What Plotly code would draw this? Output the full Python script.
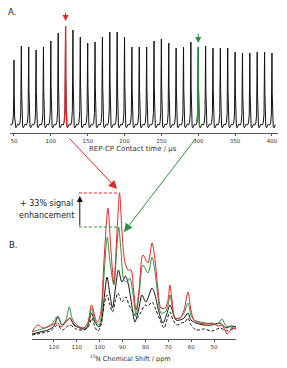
import plotly.graph_objects as go

W, H = 287, 368

# ---------------- Panel A data (REP-CP contact-time array) ----------------
contact_times = [50, 60, 70, 80, 90, 100, 110, 120, 130, 140, 150, 160,
                 170, 180, 190, 200, 210, 220, 230, 240, 250, 260, 270, 280,
                 290, 300, 310, 320, 330, 340, 350, 360, 370, 380, 390, 400]
peak_heights = [65, 79, 78, 75, 78, 84, 92, 99, 95, 88, 82, 83,
                88, 93, 93, 88, 78, 78, 78, 84, 86, 82, 77, 78,
                83, 78, 79, 77, 77, 77, 73, 72, 72, 73, 73, 72]
red_time = 120
green_time = 300
a_ticks = [50, 100, 150, 200, 250, 300, 350, 400]

# ---------------- Panel B data (15N spectra) ----------------
red_ppm = [129.6, 127.0, 124.8, 122.6, 120.9, 118.3, 116.9, 114.8, 113.0, 111.3,
           109.5, 106.9, 105.1, 103.6, 101.6, 100.8, 99.4, 98.1, 96.4, 95.1,
           93.8, 92.4, 91.3, 90.3, 89.0, 87.6, 86.3, 85.2, 84.1, 82.8,
           81.1, 78.9, 77.1, 75.8, 74.5, 73.2, 71.4, 70.1, 69.3, 68.4,
           67.1, 64.9, 63.1, 61.4, 60.1, 58.8, 56.1, 53.5, 50.9, 48.3,
           46.5, 44.3, 42.6, 40.4]
red_int = [7, 14, 11, 12, 14, 16, 12, 17, 21, 15,
           12, 11, 17, 34, 19, 17, 29, 79, 131, 89,
           56, 109, 146, 109, 77, 69, 69, 49, 29, 49,
           84, 76, 96, 79, 49, 31, 31, 39, 54, 39,
           21, 21, 29, 47, 29, 19, 16, 15, 16, 13,
           14, 5, 9, 11]

green_ppm = [129.6, 127.0, 123.9, 120.9, 118.3, 116.5, 114.8, 113.3, 112.1, 110.8,
             108.6, 106.0, 104.7, 103.6, 102.1, 100.3, 99.4, 98.1, 96.7, 95.5,
             93.8, 92.7, 91.7, 90.7, 89.4, 88.1, 86.8, 85.4, 84.1, 82.8,
             81.1, 78.9, 77.1, 75.8, 74.5, 73.2, 71.4, 70.1, 69.3, 68.4,
             67.1, 64.9, 63.1, 61.4, 60.1, 58.8, 56.1, 53.5, 50.9, 48.3,
             46.5, 44.8, 42.6, 40.4]
green_int = [7, 9, 11, 15, 23, 14, 19, 32, 21, 16,
             12, 11, 19, 31, 19, 14, 21, 64, 102, 77,
             54, 84, 112, 89, 59, 57, 61, 44, 24, 44,
             74, 66, 82, 67, 42, 26, 27, 34, 44, 34,
             21, 21, 26, 36, 24, 19, 17, 16, 15, 15,
             20, 13, 12, 10]

black_ppm = [129.6, 126.1, 122.6, 120.0, 118.3, 116.5, 114.8, 113.0, 111.3, 108.6,
             106.0, 104.7, 103.6, 102.1, 100.3, 99.0, 97.9, 96.8, 95.5, 94.4,
             93.1, 91.8, 90.3, 88.7, 87.6, 86.3, 84.6, 83.0, 81.5, 79.8,
             77.1, 75.8, 74.1, 72.3, 70.8, 69.3, 67.9, 66.6, 64.9, 63.1,
             61.4, 60.1, 57.9, 54.4, 50.9, 47.4, 44.8, 42.6, 40.4]
black_int = [5, 7, 9, 13, 22, 14, 17, 21, 14, 11,
             10, 17, 26, 17, 12, 21, 44, 62, 44, 31,
             51, 69, 57, 63, 56, 39, 17, 29, 44, 37,
             51, 44, 27, 16, 24, 34, 26, 19, 19, 21,
             26, 19, 16, 14, 14, 16, 11, 13, 12]

dash_ppm = [129.6, 125.2, 121.7, 118.3, 116.5, 113.0, 110.4, 106.9, 104.7, 103.4,
            102.1, 100.8, 99.4, 98.1, 96.8, 95.5, 94.4, 93.1, 92.0, 90.3,
            88.5, 87.2, 85.9, 83.7, 82.4, 80.2, 78.9, 77.1, 75.4, 73.6,
            71.9, 70.6, 69.3, 67.9, 66.2, 64.4, 62.7, 61.4, 60.1, 57.9,
            54.4, 50.9, 47.4, 44.8, 42.6, 40.4]
dash_int = [4, 6, 8, 14, 9, 14, 10, 9, 13, 21,
            12, 8, 14, 34, 44, 34, 27, 39, 46, 37,
            42, 34, 29, 21, 25, 34, 33, 37, 29, 19,
            11, 19, 27, 19, 14, 16, 17, 21, 14, 9,
            10, 8, 11, 8, 10, 11]

b_ticks = [120, 110, 100, 90, 80, 70, 60, 50]
enh_lines = ["+ 33% signal", "enhancement"]

# ---------------- styling ----------------
RED = "#e3262b"
GREEN = "#2f8f3e"
BLACK = "#111111"
AXC = "#555555"
FONT = "DejaVu Sans"

# spike drawing profile for panel A: (offset in us, fraction of height, baseline offset)
PROFILE = [(-5.0, 0.0, 0.8), (-3.2, 0.0, 0.0), (-1.8, 0.03, 0.0), (-0.8, 0.15, 0.0),
           (-0.3, 0.5, 0.0), (0.0, 1.0, 0.0), (0.35, 0.45, 0.0), (0.9, 0.12, 0.0),
           (1.7, 0.0, -1.5), (2.6, 0.0, -2.8), (3.6, 0.0, -1.5), (4.6, 0.0, 0.3)]


def spike(t, h, lo=-9.0, hi=9.0):
    xs, ys = [], []
    for dx, f, off in PROFILE:
        if lo <= dx <= hi:
            xs.append(t + dx)
            ys.append(h * f + off)
    return xs, ys


ax_all, ay_all = [], []
for t, h in zip(contact_times, peak_heights):
    xs, ys = spike(t, h)
    ax_all += xs
    ay_all += ys

fig = go.Figure()
fig.add_trace(go.Scatter(x=ax_all, y=ay_all, mode="lines", xaxis="x", yaxis="y",
                         line=dict(color=BLACK, width=1), hoverinfo="skip"))
for t_sel, col in [(red_time, RED), (green_time, GREEN)]:
    h = peak_heights[contact_times.index(t_sel)]
    xs, ys = spike(t_sel, h, lo=-1.8, hi=1.7)
    fig.add_trace(go.Scatter(x=xs, y=ys, mode="lines", xaxis="x", yaxis="y",
                             line=dict(color=col, width=1.3), hoverinfo="skip"))

# panel B spectra
fig.add_trace(go.Scatter(x=dash_ppm, y=dash_int, mode="lines", xaxis="x2", yaxis="y2",
                         line=dict(color=BLACK, width=1, dash="3px,2px", shape="spline", smoothing=0.8)))
fig.add_trace(go.Scatter(x=black_ppm, y=black_int, mode="lines", xaxis="x2", yaxis="y2",
                         line=dict(color=BLACK, width=1, shape="spline", smoothing=0.8)))
fig.add_trace(go.Scatter(x=green_ppm, y=green_int, mode="lines", xaxis="x2", yaxis="y2",
                         line=dict(color=GREEN, width=1, shape="spline", smoothing=0.8)))
fig.add_trace(go.Scatter(x=red_ppm, y=red_int, mode="lines", xaxis="x2", yaxis="y2",
                         line=dict(color=RED, width=1, shape="spline", smoothing=0.8)))

# geometry (pixels)
A_XPX = (10, 278)
A_XR = [44.6, 408.2]
A_YPX = (133, 10)
A_YR = [-8, 115]
B_XPX = (32, 236)
B_XR = [129.6, 40.4]
B_YPX = (339, 180)
B_YR = [0, 159]


def px(v):
    return v / W


def py(v):
    return 1 - v / H


axis_common = dict(showline=True, linecolor=AXC, linewidth=1.3, ticks="outside",
                   ticklen=2, tickwidth=1, tickcolor=AXC, showgrid=False, zeroline=False,
                   tickfont=dict(family=FONT, size=5.5, color="#333"))

fig.update_layout(
    width=W, height=H, margin=dict(l=0, r=0, t=0, b=0),
    paper_bgcolor="white", plot_bgcolor="white", showlegend=False,
    xaxis=dict(domain=[px(A_XPX[0]), px(A_XPX[1])], range=A_XR, anchor="y",
               tickvals=a_ticks, **axis_common),
    yaxis=dict(domain=[py(A_YPX[0]), py(A_YPX[1])], range=A_YR, visible=False, anchor="x"),
    xaxis2=dict(domain=[px(B_XPX[0]), px(B_XPX[1])], range=B_XR, anchor="y2",
                tickvals=b_ticks, **axis_common),
    yaxis2=dict(domain=[py(B_YPX[0]), py(B_YPX[1])], range=B_YR, visible=False, anchor="x2"),
)

red_max = max(red_int)
red_peak_ppm = red_ppm[red_int.index(red_max)]
green_max = max(green_int)
green_peak_ppm = green_ppm[green_int.index(green_max)]
left_ppm = 108.7

anns = [
    dict(text="A.", x=px(6), y=py(12), xref="paper", yref="paper", xanchor="left",
         yanchor="middle", showarrow=False, font=dict(family=FONT, size=8.5, color="#222")),
    dict(text="B.", x=px(7), y=py(245), xref="paper", yref="paper", xanchor="left",
         yanchor="middle", showarrow=False, font=dict(family=FONT, size=8.5, color="#222")),
    dict(text="REP-CP Contact time / μs", x=px(133), y=py(149), xref="paper", yref="paper",
         xanchor="center", yanchor="middle", showarrow=False,
         font=dict(family=FONT, size=7, color="#333")),
    dict(text="<sup>15</sup>N Chemical Shift / ppm", x=px(130), y=py(358), xref="paper",
         yref="paper", xanchor="center", yanchor="middle", showarrow=False,
         font=dict(family=FONT, size=6.5, color="#333")),
    dict(text=enh_lines[0], x=px(47), y=py(203.5), xref="paper", yref="paper",
         xanchor="center", yanchor="middle", showarrow=False,
         font=dict(family=FONT, size=8, color="#222")),
    dict(text=enh_lines[1], x=px(47), y=py(215), xref="paper", yref="paper",
         xanchor="center", yanchor="middle", showarrow=False,
         font=dict(family=FONT, size=8, color="#222")),
    # small arrows in panel A
    dict(x=red_time, y=peak_heights[contact_times.index(red_time)] + 5, xref="x", yref="y",
         ax=0, ay=-10, showarrow=True, arrowhead=2, arrowsize=1.2, arrowwidth=1,
         arrowcolor=RED, text=""),
    dict(x=green_time, y=peak_heights[contact_times.index(green_time)] + 4, xref="x", yref="y",
         ax=0, ay=-11, showarrow=True, arrowhead=2, arrowsize=1.2, arrowwidth=1,
         arrowcolor=GREEN, text=""),
    # big diagonal arrows from A to B
    dict(x=red_peak_ppm + 1.1, y=red_max + 4, xref="x2", yref="y2", ax=-49, ay=-52,
         showarrow=True, arrowhead=2, arrowsize=1.7, arrowwidth=1, arrowcolor=RED, text=""),
    dict(x=green_peak_ppm - 2.3, y=green_max - 5, xref="x2", yref="y2", ax=73, ay=-95,
         showarrow=True, arrowhead=2, arrowsize=1.7, arrowwidth=1, arrowcolor=GREEN, text=""),
    # vertical enhancement arrow
    dict(x=left_ppm, y=red_max - 3, xref="x2", yref="y2", axref="x2", ayref="y2",
         ax=left_ppm, ay=green_max, showarrow=True, arrowhead=2, arrowsize=1.2,
         arrowwidth=1, arrowcolor="#111", text=""),
]
fig.update_layout(annotations=anns)

fig.add_shape(type="line", xref="x2", yref="y2", x0=left_ppm + 0.4, x1=red_peak_ppm,
              y0=red_max, y1=red_max, line=dict(color=RED, width=1, dash="3px,2px"))
fig.add_shape(type="line", xref="x2", yref="y2", x0=left_ppm + 0.4, x1=green_peak_ppm,
              y0=green_max, y1=green_max, line=dict(color=GREEN, width=1, dash="3px,2px"))

fig.write_html("out.html")
